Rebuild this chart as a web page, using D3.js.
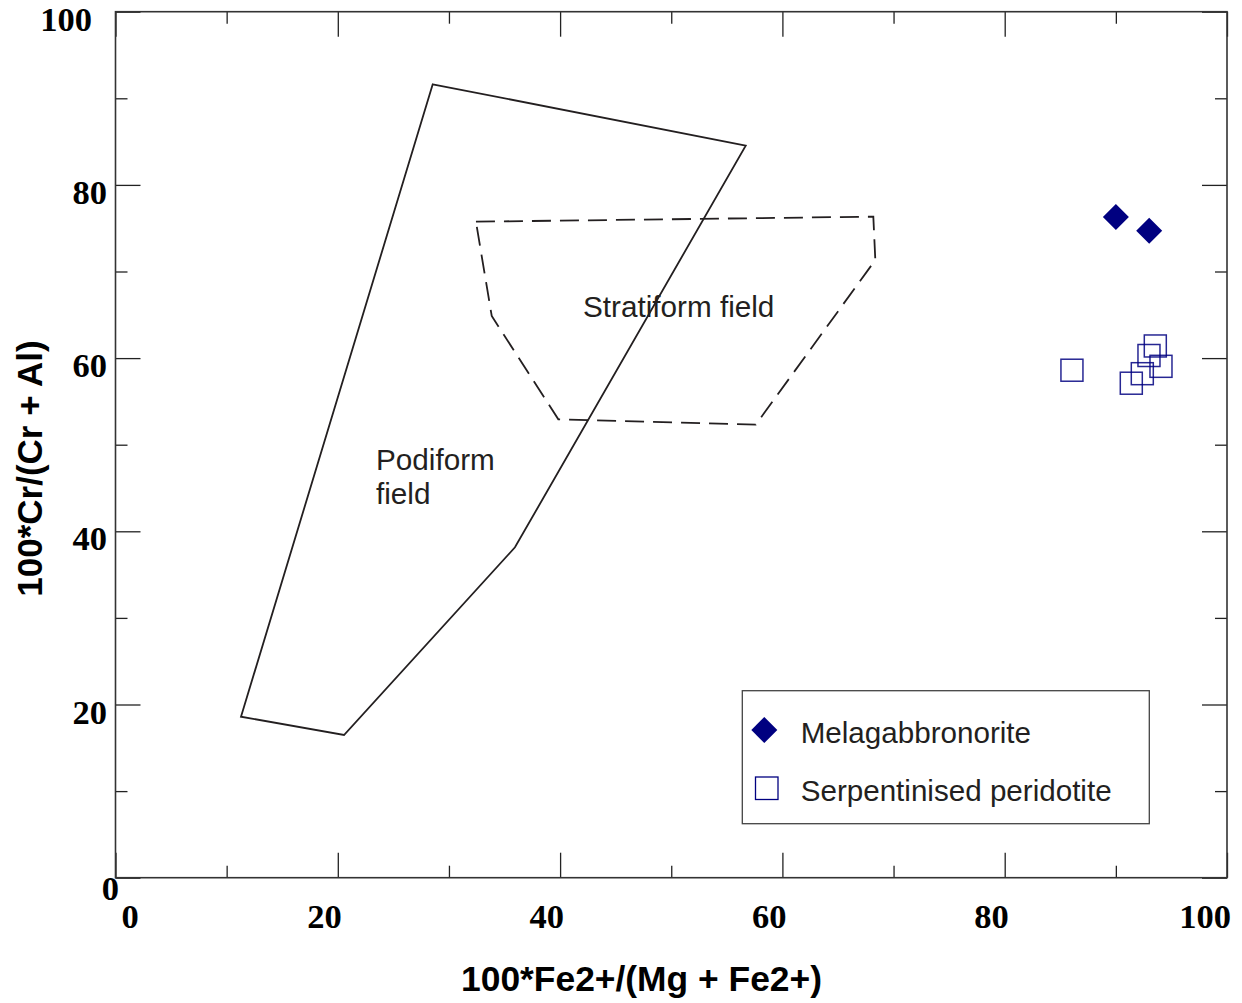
<!DOCTYPE html>
<html>
<head>
<meta charset="utf-8">
<script src="https://cdn.jsdelivr.net/npm/d3@7"></script>
<style>
  html, body { margin: 0; padding: 0; background: #fff; }
  svg { display: block; }
</style>
</head>
<body>
<svg id="chart" width="1242" height="1003"></svg>
<script>
// Spinel discrimination diagram: Cr# vs Fe# with podiform and stratiform fields

// Tick values
const majorTicks = [0, 20, 40, 60, 80, 100];
const minorTicks = [10, 30, 50, 70, 90];

// Sample analyses
const melagabbroFe = [90.0, 93.0];
const melagabbroCr = [76.3, 74.7];
const peridotiteFe = [86.05, 91.39, 92.38, 92.98, 93.55, 94.06];
const peridotiteCr = [58.6, 57.1, 58.2, 60.3, 61.4, 59.05];

// Field outlines
const podiformFe = [28.54, 56.70, 35.94, 20.56, 11.29];
const podiformCr = [91.62, 84.53, 38.15, 16.48, 18.59];
const stratiformFe = [32.43, 68.18, 68.36, 57.60, 39.84, 33.85];
const stratiformCr = [75.75, 76.33, 71.33, 52.31, 52.93, 64.86];

const seriesNames = ["Melagabbronorite", "Serpentinised peridotite"];

const svg = d3.select("#chart");
const plotL = 115.5, plotR = 1227, plotT = 11.7, plotB = 877.7;

const x = d3.scaleLinear().domain([0, 100]).range([plotL, plotR]);
const y = d3.scaleLinear().domain([0, 100]).range([plotB, plotT]);

const serif = "'Liberation Serif', 'Times New Roman', serif";
const sans = "'Liberation Sans', Arial, Helvetica, sans-serif";
const ink = "#231f20";

// Inward tick marks on all four sides
function ticks(axisFn, pos, vals, size) {
  const g = svg.append("g")
    .attr("transform", pos)
    .call(axisFn.tickValues(vals).tickSize(-size).tickFormat(""));
  g.select(".domain").remove();
  g.selectAll(".tick line").attr("stroke", "#222").attr("stroke-width", 1.3);
  return g;
}
ticks(d3.axisBottom(x), `translate(0,${plotB})`, majorTicks, 25);
ticks(d3.axisBottom(x), `translate(0,${plotB})`, minorTicks, 12);
ticks(d3.axisTop(x), `translate(0,${plotT})`, majorTicks, 25);
ticks(d3.axisTop(x), `translate(0,${plotT})`, minorTicks, 12);
ticks(d3.axisLeft(y), `translate(${plotL},0)`, majorTicks, 25);
ticks(d3.axisLeft(y), `translate(${plotL},0)`, minorTicks, 12);
ticks(d3.axisRight(y), `translate(${plotR},0)`, majorTicks, 25);
ticks(d3.axisRight(y), `translate(${plotR},0)`, minorTicks, 12);

// Plot frame
svg.append("rect")
  .attr("x", plotL).attr("y", plotT)
  .attr("width", plotR - plotL).attr("height", plotB - plotT)
  .attr("fill", "none").attr("stroke", "#333").attr("stroke-width", 1.6);

// Tick labels
svg.append("g").selectAll("text")
  .data(majorTicks)
  .join("text")
  .attr("x", d => d === 0 ? x(d) + 6 : x(d) + 4)
  .attr("y", 928)
  .attr("text-anchor", d => d === 0 ? "start" : "end")
  .attr("font-family", serif).attr("font-weight", "bold").attr("font-size", 34.5)
  .attr("fill", "#000")
  .text(d => d);

svg.append("g").selectAll("text")
  .data(majorTicks)
  .join("text")
  .attr("x", d => d === 100 ? 92 : d === 0 ? 119 : 107)
  .attr("y", d => y(d) + (d === 0 ? 22 : 19))
  .attr("text-anchor", "end")
  .attr("font-family", serif).attr("font-weight", "bold").attr("font-size", 34.5)
  .attr("fill", "#000")
  .text(d => d);

// Axis titles
svg.append("text")
  .attr("x", 641.5).attr("y", 991)
  .attr("text-anchor", "middle")
  .attr("font-family", sans).attr("font-weight", "bold").attr("font-size", 35.4)
  .attr("fill", "#000")
  .text("100*Fe2+/(Mg + Fe2+)");

svg.append("text")
  .attr("transform", "translate(41.5,468.5) rotate(-90)")
  .attr("text-anchor", "middle")
  .attr("font-family", sans).attr("font-weight", "bold").attr("font-size", 35)
  .attr("fill", "#000")
  .text("100*Cr/(Cr + Al)");

// Field outlines
const outline = d3.line().x(d => x(d[0])).y(d => y(d[1])).curve(d3.curveLinearClosed);
svg.append("path")
  .attr("d", outline(d3.zip(podiformFe, podiformCr)))
  .attr("fill", "none").attr("stroke", ink).attr("stroke-width", 1.8)
  .attr("stroke-linejoin", "miter");
svg.append("path")
  .attr("d", outline(d3.zip(stratiformFe, stratiformCr)))
  .attr("fill", "none").attr("stroke", ink).attr("stroke-width", 1.8)
  .attr("stroke-dasharray", "19,9");

// Field labels
svg.append("text")
  .attr("x", 583).attr("y", 317)
  .attr("font-family", sans).attr("font-size", 29.7).attr("fill", ink)
  .text("Stratiform field");
const podi = svg.append("text")
  .attr("x", 376).attr("y", 470)
  .attr("font-family", sans).attr("font-size", 29.7).attr("fill", ink);
podi.append("tspan").attr("x", 376).text("Podiform");
podi.append("tspan").attr("x", 376).attr("dy", 34).text("field");

// Markers
const navy = "#000080";
const diamond = d3.symbol().type(d3.symbolSquare).size(26 * 26 / 2);
svg.append("g").selectAll("path")
  .data(d3.zip(melagabbroFe, melagabbroCr))
  .join("path")
  .attr("d", diamond)
  .attr("transform", d => `translate(${x(d[0])},${y(d[1])}) rotate(45)`)
  .attr("fill", navy);

const sq = 22;
svg.append("g").selectAll("rect")
  .data(d3.zip(peridotiteFe, peridotiteCr))
  .join("rect")
  .attr("x", d => x(d[0]) - sq / 2).attr("y", d => y(d[1]) - sq / 2)
  .attr("width", sq).attr("height", sq)
  .attr("fill", "none").attr("stroke", navy).attr("stroke-width", 1.5)
  .attr("stroke-opacity", 0.85);

// Legend
const lg = svg.append("g");
lg.append("rect")
  .attr("x", 742.3).attr("y", 690.7).attr("width", 407).attr("height", 133)
  .attr("fill", "#fff").attr("stroke", "#444").attr("stroke-width", 1.3);
lg.append("path")
  .attr("d", diamond)
  .attr("transform", "translate(764.3,730) rotate(45)")
  .attr("fill", navy);
lg.append("rect")
  .attr("x", 755.5).attr("y", 777).attr("width", 22.5).attr("height", 22.5)
  .attr("fill", "none").attr("stroke", navy).attr("stroke-width", 1.3);
lg.selectAll("text.label")
  .data(seriesNames)
  .join("text")
  .attr("class", "label")
  .attr("x", 800.7)
  .attr("y", (d, i) => 742.7 + i * 58)
  .attr("font-family", sans).attr("font-size", 29.6).attr("fill", ink)
  .text(d => d);
</script>
</body>
</html>
